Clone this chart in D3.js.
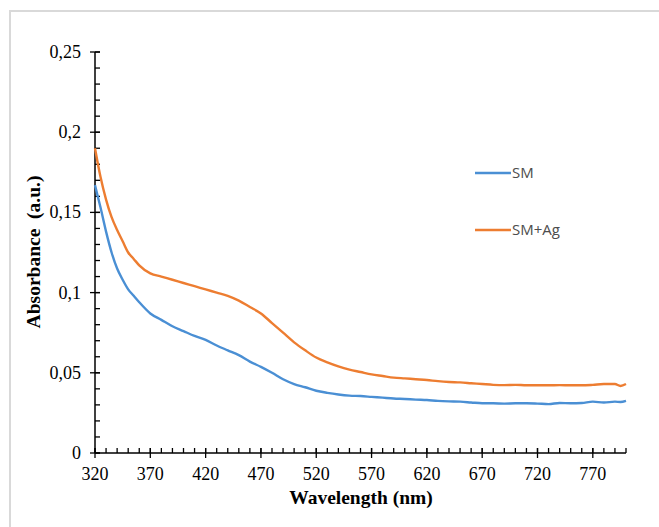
<!DOCTYPE html>
<html>
<head>
<meta charset="utf-8">
<script src="https://cdn.jsdelivr.net/npm/d3@7"></script>
<style>
  body { margin: 0; background: #fff; }
</style>
</head>
<body>
<script>
// wavelengths (nm)
var wavelengths = [320,325,330,335,340,345,350,355,360,370,380,390,400,410,420,430,440,450,460,470,480,490,500,510,520,530,540,550,560,570,580,590,600,610,620,630,640,650,660,670,680,690,700,710,720,730,740,750,760,770,780,790,795,800];

var smValues = [0.167,0.153,0.138,0.125,0.115,0.108,0.102,0.098,0.094,0.087,0.083,0.079,0.076,0.073,0.0705,0.067,0.064,0.061,0.057,0.0537,0.050,0.046,0.043,0.041,0.0388,0.0375,0.0365,0.0358,0.0355,0.035,0.0345,0.034,0.0337,0.0333,0.033,0.0325,0.0322,0.032,0.0315,0.031,0.031,0.0308,0.031,0.031,0.0308,0.0305,0.0312,0.031,0.0312,0.032,0.0315,0.032,0.0318,0.0325];

var smAgValues = [0.19,0.172,0.158,0.147,0.139,0.132,0.125,0.121,0.117,0.112,0.110,0.108,0.106,0.104,0.102,0.100,0.098,0.095,0.091,0.087,0.081,0.075,0.069,0.064,0.0595,0.0565,0.054,0.052,0.0505,0.049,0.048,0.047,0.0465,0.046,0.0455,0.0448,0.0443,0.044,0.0435,0.043,0.0425,0.0423,0.0425,0.0422,0.0422,0.0422,0.0423,0.0422,0.0422,0.0425,0.043,0.043,0.0418,0.043];

var seriesNames = ["SM", "SM+Ag"];
var seriesColors = ["#4a8fd4", "#ed7d31"];
var xTicks = [320,370,420,470,520,570,620,670,720,770];
var yTicks = [0,0.05,0.1,0.15,0.2,0.25];

var W = 659, H = 527;
var svg = d3.select("body").append("svg").attr("width", W).attr("height", H);

// outer frame
svg.append("rect")
  .attr("x", 10).attr("y", 11)
  .attr("width", 700).attr("height", 600)
  .attr("fill", "none").attr("stroke", "#d9d9d9").attr("stroke-width", 2);

var x = d3.scaleLinear().domain([320, 800]).range([95, 626]);
var y = d3.scaleLinear().domain([0, 0.25]).range([453, 52]);

var fmt = function(d){ return String(d).replace(".", ","); };

// minor ticks
var gx = svg.append("g");
gx.selectAll("line.minor")
  .data(d3.range(320, 801, 10))
  .enter().append("line")
  .attr("x1", function(d){ return x(d); }).attr("x2", function(d){ return x(d); })
  .attr("y1", y(0)).attr("y2", y(0) - 5)
  .attr("stroke", "#000").attr("stroke-width", 1.3);
gx.selectAll("line.major")
  .data(xTicks)
  .enter().append("line")
  .attr("x1", function(d){ return x(d); }).attr("x2", function(d){ return x(d); })
  .attr("y1", y(0) - 5).attr("y2", y(0) + 5)
  .attr("stroke", "#000").attr("stroke-width", 1.3);
gx.append("line")
  .attr("x1", x(320)).attr("x2", x(800)).attr("y1", y(0)).attr("y2", y(0))
  .attr("stroke", "#000").attr("stroke-width", 1.5);
gx.selectAll("text")
  .data(xTicks)
  .enter().append("text")
  .attr("x", function(d){ return x(d); })
  .attr("y", y(0) + 27)
  .attr("text-anchor", "middle")
  .style("font-family", "'Liberation Serif', serif")
  .style("font-size", "18px")
  .text(function(d){ return d; });

var gy = svg.append("g");
gy.selectAll("line.minor")
  .data(d3.range(0, 26, 1).map(function(d){ return d / 100; }))
  .enter().append("line")
  .attr("x1", x(320)).attr("x2", x(320) + 5)
  .attr("y1", function(d){ return y(d); }).attr("y2", function(d){ return y(d); })
  .attr("stroke", "#000").attr("stroke-width", 1.3);
gy.selectAll("line.major")
  .data(yTicks)
  .enter().append("line")
  .attr("x1", x(320) - 5).attr("x2", x(320) + 5)
  .attr("y1", function(d){ return y(d); }).attr("y2", function(d){ return y(d); })
  .attr("stroke", "#000").attr("stroke-width", 1.3);
gy.append("line")
  .attr("x1", x(320)).attr("x2", x(320)).attr("y1", y(0)).attr("y2", y(0.25))
  .attr("stroke", "#000").attr("stroke-width", 1.5);
gy.selectAll("text")
  .data(yTicks)
  .enter().append("text")
  .attr("x", x(320) - 14)
  .attr("y", function(d){ return y(d) + 6; })
  .attr("text-anchor", "end")
  .style("font-family", "'Liberation Serif', serif")
  .style("font-size", "18px")
  .text(fmt);

// axis titles
svg.append("text")
  .attr("x", 361).attr("y", 504)
  .attr("text-anchor", "middle")
  .style("font-family", "'Liberation Serif', serif")
  .style("font-weight", "bold")
  .style("font-size", "19.5px")
  .text("Wavelength (nm)");

svg.append("text")
  .attr("transform", "translate(40,252) rotate(-90)")
  .attr("text-anchor", "middle")
  .style("font-family", "'Liberation Serif', serif")
  .style("font-weight", "bold")
  .style("font-size", "19.5px")
  .style("white-space", "pre")
  .text("Absorbance  (a.u.)");

// curves
var line = d3.line()
  .curve(d3.curveMonotoneX)
  .x(function(d){ return x(d[0]); })
  .y(function(d){ return y(d[1]); });

[smValues, smAgValues].forEach(function(vals, i){
  svg.append("path")
    .datum(wavelengths.map(function(w, j){ return [w, vals[j]]; }))
    .attr("d", line)
    .attr("fill", "none")
    .attr("stroke", seriesColors[i])
    .attr("stroke-width", 2.4);
});

// legend
var legend = svg.append("g");
seriesNames.forEach(function(name, i){
  var ly = 173 + i * 57;
  legend.append("line")
    .attr("x1", 475).attr("x2", 511).attr("y1", ly).attr("y2", ly)
    .attr("stroke", seriesColors[i]).attr("stroke-width", 2.4);
  legend.append("text")
    .attr("x", 512).attr("y", ly + 5)
    .style("font-family", "'Open Sans', sans-serif")
    .style("font-size", "15px")
    .style("fill", "#4d4d4d")
    .text(name);
});
</script>
</body>
</html>
